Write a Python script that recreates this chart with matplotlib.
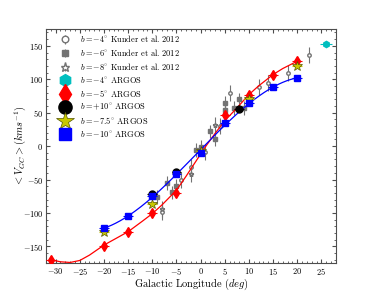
import matplotlib
matplotlib.use('Agg')
import matplotlib.pyplot as plt
import numpy as np
from matplotlib.ticker import MultipleLocator

plt.rcParams['font.family'] = 'cmr10'
plt.rcParams['mathtext.fontset'] = 'cm'
plt.rcParams['axes.formatter.use_mathtext'] = True

# Kunder et al. 2012 (BRAVA)
k4_l = [-8, -4, -2, 1, 4, 6, 12, 14, 18, 22.5]
k4_v = [-98, -50, -31, -9, 30, 79, 88, 95, 110, 136]
k6_l = [-9, -7, -6, -5, -1, 0, 2, 3, 5, 5, 7, 8, 9]
k6_v = [-76, -55, -69, -59, -6, -1, 22, 10, 65, 54, 57, 70, 57]
k8_l = [-8, -2, 3, 5]
k8_v = [-94, -41, 32, 50]

# ARGOS
a4_l = [26]
a4_v = [152]
a5_l = [-31, -20, -15, -10, -5, 5, 10, 15, 20]
a5_v = [-170, -150, -128, -100, -70, 46, 76, 106, 128]
a10p_l = [-10, -5, 8]
a10p_v = [-72, -39, 55]
a75_l = [-20, -10, 0, 10, 20]
a75_v = [-128, -86, -7, 70, 120]
a10_l = [-20, -15, -10, -5, 0, 5, 10, 15, 20]
a10_v = [-123, -105, -74, -42, -10, 34, 64, 88, 102]

# red model curve
fit5_l = [-31, -29, -27, -25, -23, -21, -20, -18, -15, -12, -10, -8, -5, -3, -1,
          1, 3, 5, 7, 10, 12, 15, 17, 20]
fit5_v = [-170, -173, -174, -171, -163, -153, -148, -140, -128, -112, -101, -88, -66,
          -45, -23, -1, 19, 38, 53, 77, 90, 107, 116, 127]

fig = plt.figure(figsize=(3.74, 2.94), dpi=100)
ax = fig.add_axes([0.123, 0.105, 0.775, 0.796])

grey = '0.45'
ax.errorbar(k4_l, k4_v, yerr=12, fmt='o', ms=2.5, mfc='white', mec=grey, ecolor=grey,
            elinewidth=0.8, capsize=0, label=r'$b=-4^{\circ}$ Kunder et al. 2012')
ax.errorbar(k6_l, k6_v, yerr=10, fmt='s', ms=2.5, mfc=grey, mec=grey, ecolor=grey,
            elinewidth=0.8, capsize=0, label=r'$b=-6^{\circ}$ Kunder et al. 2012')
ax.errorbar(k8_l, k8_v, yerr=12, fmt='*', ms=3.5, mfc='white', mec=grey, ecolor=grey,
            elinewidth=0.8, capsize=0, label=r'$b=-8^{\circ}$ Kunder et al. 2012')

ax.plot(fit5_l, fit5_v, color='red', lw=0.9, zorder=3)
# cubic fit to the b=-10 points
p10 = np.polyfit(a10_l, a10_v, 3)
x10 = np.linspace(min(a10_l), max(a10_l), 200)
ax.plot(x10, np.polyval(p10, x10), color='blue', lw=0.9, zorder=3)

ax.errorbar(a4_l, a4_v, xerr=1.2, yerr=2, fmt='h', ms=4.5, color='c', mec='c',
            elinewidth=0.8, capsize=0, zorder=4, label=r'$b=-4^{\circ}$ ARGOS')
ax.errorbar(a5_l, a5_v, xerr=1, yerr=5, fmt='d', ms=5.5, color='red', mec='red',
            elinewidth=0.8, capsize=0, zorder=4, label=r'$b=-5^{\circ}$ ARGOS')
ax.errorbar(a10p_l, a10p_v, xerr=1, yerr=3, fmt='o', ms=5, color='black', mec='black',
            elinewidth=0.8, capsize=0, zorder=4, label=r'$b=+10^{\circ}$ ARGOS')
ax.errorbar(a75_l, a75_v, xerr=1, yerr=3, fmt='*', ms=7, color='#c8c800', mec='#555500',
            mew=0.5, ecolor='#c8c800', elinewidth=0.8, capsize=0, zorder=4,
            label=r'$b=-7.5^{\circ}$ ARGOS')
ax.errorbar(a10_l, a10_v, xerr=1, yerr=3, fmt='s', ms=4.5, color='blue', mec='blue',
            elinewidth=0.8, capsize=0, zorder=5, label=r'$b=-10^{\circ}$ ARGOS')

ax.set_xlim(-32, 28)
ax.set_ylim(-175, 175)
ax.xaxis.set_major_locator(MultipleLocator(5))
ax.xaxis.set_minor_locator(MultipleLocator(1))
ax.yaxis.set_major_locator(MultipleLocator(50))
ax.yaxis.set_minor_locator(MultipleLocator(10))
ax.tick_params(which='both', direction='in', top=True, right=True, labelsize=6,
               color='0.3', pad=2)
ax.tick_params(which='major', length=3)
ax.tick_params(which='minor', length=1.5)
for s in ax.spines.values():
    s.set_color('0.3')
    s.set_linewidth(0.8)

ax.set_xlabel(r'Galactic Longitude $(deg)$', fontsize=7.5, labelpad=0)
ax.set_ylabel(r'$<V_{GC}>(kms^{-1})$', fontsize=7.5, labelpad=-4)

ax.legend(loc='upper left', bbox_to_anchor=(0.03, 1.0), frameon=False, fontsize=6,
          markerscale=1.9, handlelength=1.5, labelspacing=0.35, borderaxespad=0,
          handletextpad=1.0, borderpad=0.5)

plt.savefig('out.png', dpi=100)
